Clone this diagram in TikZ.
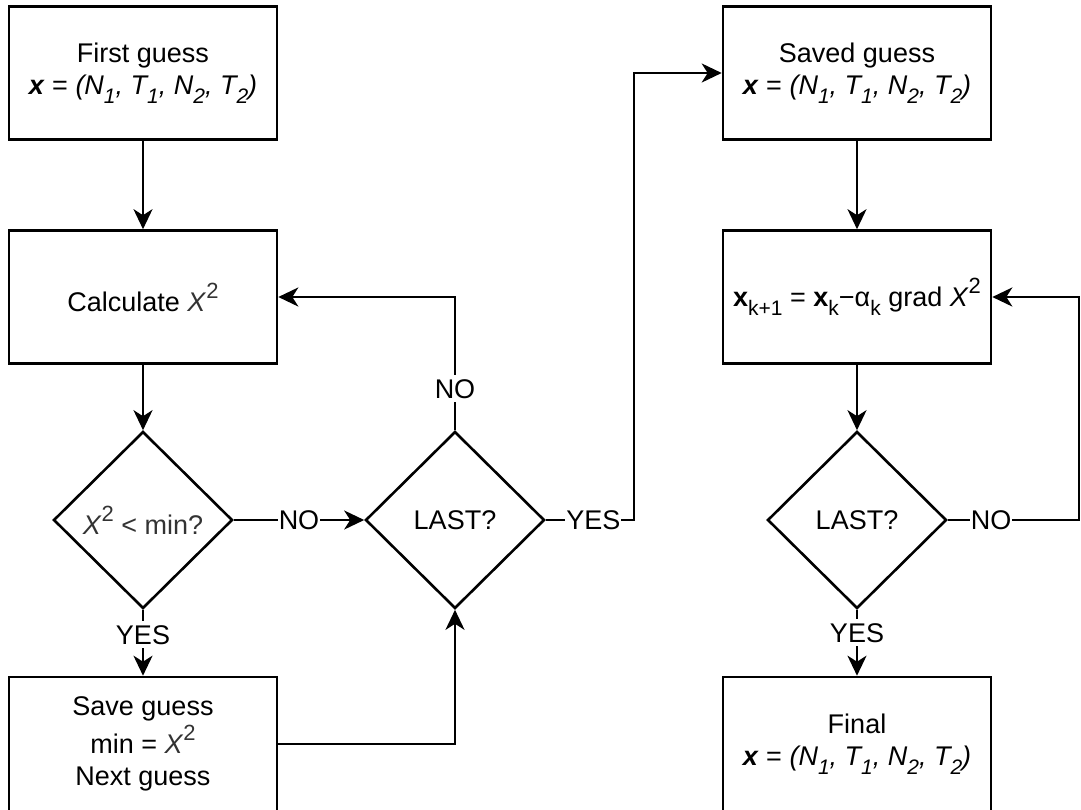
\documentclass[tikz,border=0pt]{standalone}
\usepackage{fontspec}
\setmainfont{Liberation Sans}
\usetikzlibrary{shapes.geometric,arrows.meta}
\definecolor{tgrey}{HTML}{333333}
\newcommand\mysb[1]{\raisebox{-0.32em}{\fontsize{21}{21}\selectfont #1}}
\newcommand\mysp[1]{\raisebox{0.48em}{\fontsize{22}{22}\selectfont #1}}
\newcommand\vecx{\textit{\textbf{x}} = \textit{(N\mysb{1}, T\mysb{1}, N\mysb{2}, T\mysb{2})}}
\newcommand\chisq{\textit{X}\mysp{2}}
\begin{document}
\begin{tikzpicture}[x=1pt,y=-1pt,
  every node/.style={font=\fontsize{27}{32}\selectfont},
  box/.style={draw,line width=2.6pt,minimum width=268pt,minimum height=133pt,inner sep=0pt,align=center},
  dia/.style={draw,shape=diamond,line width=2.6pt,minimum width=179pt,minimum height=177pt,inner sep=0pt,align=center},
  arr/.style={line width=2.6pt,-{Stealth[length=20pt,width=19pt,inset=6pt]}},
  lbl/.style={fill=white,inner xsep=1pt,inner ysep=4pt}]
\useasboundingbox (0,0) rectangle (1081,809);
\node[box] (first) at (143,73) {First guess\\\vecx};
\node[box] (calc) at (143,297) {Calculate \textcolor{tgrey}{\chisq}};
\node[dia] (cmp) at (143,520) {\textcolor{tgrey}{\chisq{} < min?}};
\node[box,minimum height=134pt] (save) at (143,744) {Save guess\\[3pt]min = \textcolor{tgrey}{\chisq}\\Next guess};
\node[dia] (last1) at (455,520) {LAST?};
\node[box] (saved) at (857,73) {Saved guess\\\vecx};
\node[box] (grad) at (857,297) {\textbf{x}\mysb{k+1} = \textbf{x}\mysb{k}−α\mysb{k} grad \chisq};
\node[dia] (last2) at (857,520) {LAST?};
\node[box,minimum height=134pt] (final) at (857,744) {Final\\\vecx};
\coordinate (yx) at (634,520);
\coordinate (nx) at (1079,520);
\draw[arr] (first) -- (calc);
\draw[arr] (calc) -- (cmp);
\draw[arr] (cmp.east) -- node[lbl]{NO} (last1.west);
\draw[arr] (cmp.south) -- node[lbl,pos=0.38]{YES} (save.north);
\draw[arr] (save.east) -| (last1.south);
\draw[arr] (last1.north) -- node[lbl,pos=0.31]{NO} (last1.north |- calc.east) -- (calc.east);
\draw[arr] (last1.east) -- node[lbl,pos=0.54]{YES} (yx) |- (saved.west);
\draw[arr] (saved) -- (grad);
\draw[arr] (grad) -- (last2);
\draw[arr] (last2.east) -- node[lbl,pos=0.33]{NO} (nx) |- (grad.east);
\draw[arr] (last2.south) -- node[lbl,pos=0.35]{YES} (final.north);
\end{tikzpicture}
\end{document}
